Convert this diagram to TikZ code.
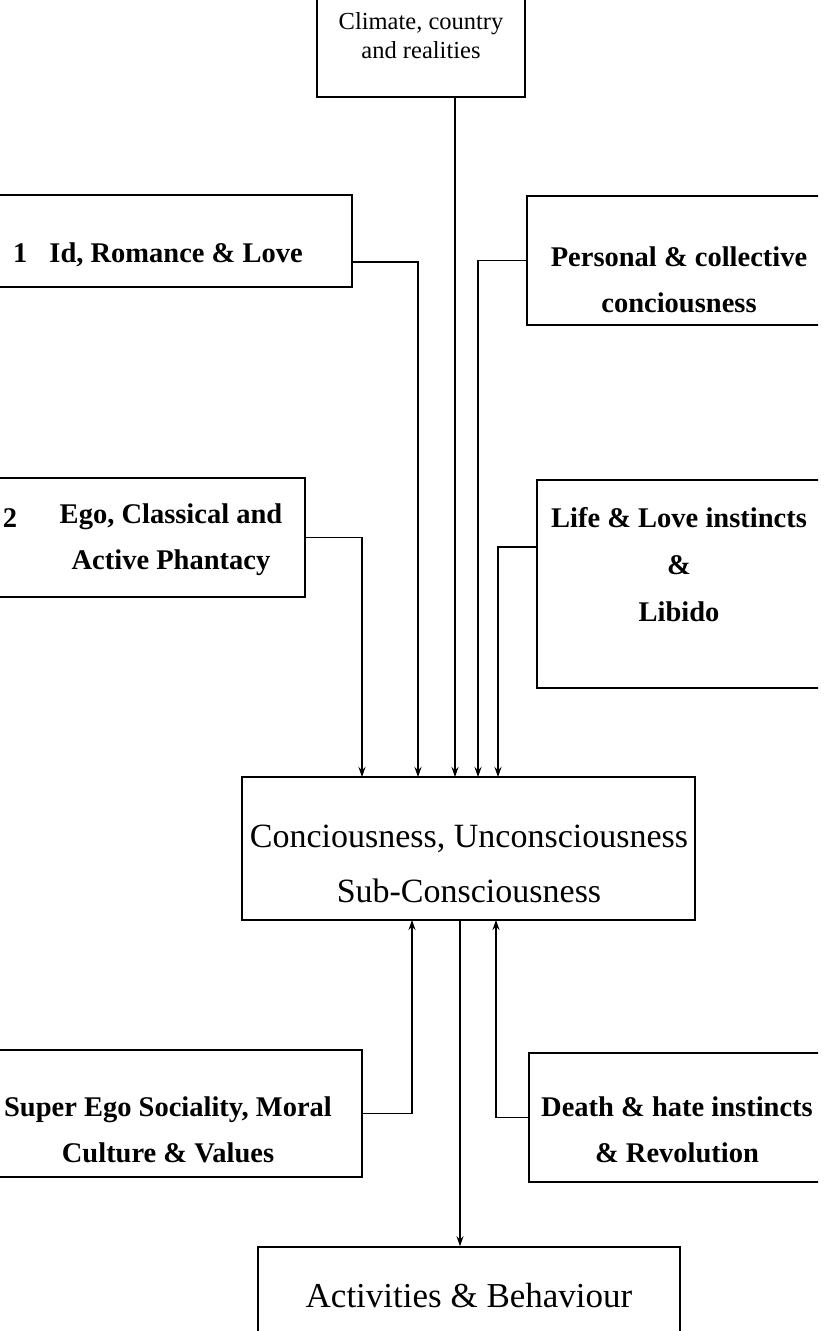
\documentclass[tikz,border=0pt]{standalone}
\usepackage{fontspec}
\setmainfont{Liberation Serif}
\usetikzlibrary{arrows.meta,calc}

\begin{document}
\begin{tikzpicture}[x=1pt, y=-1pt,
    frame/.style={draw, line width=1.6pt, inner sep=0pt},
    sidetext/.style={font=\fontsize{28.5}{46}\selectfont\bfseries, align=center, inner sep=0pt},
    midtext/.style={font=\fontsize{34}{55}\selectfont, align=center, inner sep=0pt},
    arr/.style={-{Stealth[length=10pt,width=7pt]}, line width=1.2pt}]
  \useasboundingbox (0,0) rectangle (835,1331);
  \clip (0,0) rectangle (818,1331);

  % top and centre boxes
  \node[frame, minimum width=208pt, minimum height=122pt, align=center,
        font=\fontsize{24.5}{29}\selectfont] (clim) at (421,36) {Climate, country\\and realities};
  \node[frame, minimum width=453pt, minimum height=143pt] (cons) at (468.5,848.5) {};
  \node[midtext] (consT) at (469,864) {Conciousness, Unconsciousness\\Sub-Consciousness};
  \node[frame, minimum width=422pt, minimum height=98pt,
        font=\fontsize{35}{38}\selectfont] (act) at (469,1296) {Activities \& Behaviour};

  % side boxes
  \node[frame, minimum width=382pt, minimum height=92pt] (id) at (161,241) {};
  \node[frame, minimum width=333pt, minimum height=129pt] (pers) at (693.5,260.5) {};
  \node[frame, minimum width=335pt, minimum height=119pt] (ego) at (137.5,537.5) {};
  \node[frame, minimum width=323pt, minimum height=208pt] (life) at (698.5,584) {};
  \node[frame, minimum width=392pt, minimum height=127pt] (sup) at (166,1113.5) {};
  \node[frame, minimum width=331pt, minimum height=129pt] (death) at (694.5,1117.5) {};

  \node[sidetext, anchor=west] (idT) at (13,255) {1\hspace{22pt}Id, Romance \& Love};
  \node[sidetext] (persT) at (679,280) {Personal \& collective\\conciousness};
  \node[sidetext] (egoN) at (10,518) {2};
  \node[sidetext] (egoT) at (171,540) {Ego, Classical and\\Active Phantacy};
  \node[sidetext, font=\fontsize{28.5}{47}\selectfont\bfseries] (lifeT) at (679,565) {Life \& Love instincts\\\&\\Libido};
  \node[sidetext] (supT) at (168,1130) {Super Ego Sociality, Moral\\Culture \& Values};
  \node[sidetext] (deathT) at (677,1130) {Death \& hate instincts\\\& Revolution};

  % entry and exit points on the centre box
  \coordinate (in1) at (362,777);
  \coordinate (in2) at (418,777);
  \coordinate (in3) at (455,777);
  \coordinate (in4) at (478,777);
  \coordinate (in5) at (498,777);
  \coordinate (out1) at (412,920);
  \coordinate (out2) at (460,920);
  \coordinate (out3) at (496,920);

  \draw[arr] (clim.south -| in3) -- (in3);
  \draw[arr] ([yshift=-21pt]id.east) -| (in2);
  \draw[arr] (pers.west) -| (in4);
  \draw[arr] (ego.east) -| (in1);
  \draw[arr] ([yshift=37pt]life.west) -| (in5);
  \draw[arr] (sup.east) -| (out1);
  \draw[arr] (death.west) -| (out3);
  \draw[arr] (out2) -- (out2 |- act.north);
\end{tikzpicture}
\end{document}
